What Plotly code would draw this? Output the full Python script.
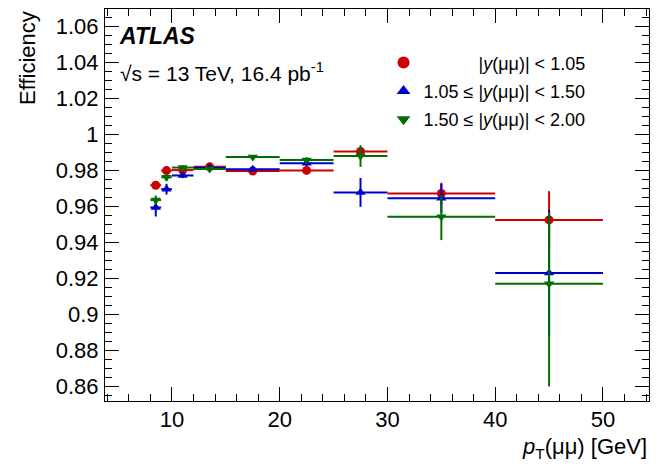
import plotly.graph_objects as go

# ---- data ----
pt_centers = [8.5, 9.5, 11, 13.5, 17.5, 22.5, 27.5, 35, 45]
pt_halfwidths = [0.5, 0.5, 1, 1.5, 2.5, 2.5, 2.5, 5, 5]

eff_central = [0.9718, 0.9799, 0.9802, 0.9820, 0.9797, 0.9800, 0.9905, 0.9672, 0.9525]
err_central = [0.0015, 0.0012, 0.001, 0.001, 0.001, 0.0012, 0.002, 0.006, 0.016]

eff_mid = [0.9594, 0.9696, 0.9772, 0.9815, 0.9807, 0.9840, 0.9678, 0.9645, 0.9230]
err_mid = [0.005, 0.003, 0.0015, 0.001, 0.001, 0.0015, 0.008, 0.008, 0.035]

eff_fwd = [0.9636, 0.9762, 0.9816, 0.9808, 0.9875, 0.9858, 0.9880, 0.9543, 0.9170]
err_fwd_up = [0.0025, 0.002, 0.001, 0.001, 0.001, 0.0015, 0.006, 0.012, 0.040]
err_fwd_dn = [0.0025, 0.002, 0.001, 0.001, 0.001, 0.0015, 0.006, 0.013, 0.057]

names = ["\u00a0" * 11 + "|<i>y</i>(\u03bc\u03bc)| < 1.05",
         "1.05 \u2264 |<i>y</i>(\u03bc\u03bc)| < 1.50",
         "1.50 \u2264 |<i>y</i>(\u03bc\u03bc)| < 2.00"]

y_tickvals = [0.86, 0.88, 0.9, 0.92, 0.94, 0.96, 0.98, 1.0, 1.02, 1.04, 1.06]
y_ticktext = ["0.86", "0.88", "0.9", "0.92", "0.94", "0.96", "0.98", "1", "1.02", "1.04", "1.06"]
x_tickvals = [10, 20, 30, 40, 50]
x_ticktext = ["10", "20", "30", "40", "50"]

RED = "#cc0000"
BLUE = "#0000cc"
GREEN = "#006e00"
FONT = "Liberation Sans, Arial, sans-serif"

fig = go.Figure()

def add_series(y, eup, edn, color, symbol, name, group):
    fig.add_trace(go.Scatter(
        x=pt_centers, y=y, mode="markers", name=name, legendgroup=group,
        marker=dict(color=color, symbol=symbol, size=9, line=dict(width=0)),
        error_x=dict(type="data", array=pt_halfwidths, symmetric=True,
                     color=color, thickness=2, width=0),
        error_y=dict(type="data", array=eup, arrayminus=edn, symmetric=False,
                     color=color, thickness=2, width=0),
    ))

add_series(eff_central, err_central, err_central, RED, "circle", names[0], "a")
add_series(eff_mid, err_mid, err_mid, BLUE, "triangle-up", names[1], "b")
add_series(eff_fwd, err_fwd_up, err_fwd_dn, GREEN, "triangle-down", names[2], "c")

axis_common = dict(
    showline=True, linecolor="black", linewidth=1, mirror="ticks",
    ticks="inside", tickcolor="black", tickwidth=1,
    showgrid=False, zeroline=False, automargin=False,
    tickfont=dict(family=FONT, size=22, color="black"),
)

fig.update_layout(
    width=660, height=470,
    margin=dict(l=105, r=11, t=9, b=69),
    paper_bgcolor="white", plot_bgcolor="white",
    font=dict(family=FONT, color="black"),
    showlegend=True,
    legend=dict(x=0.512, y=0.91, xanchor="left", yanchor="top",
                bgcolor="rgba(0,0,0,0)", font=dict(family=FONT, size=18, color="black"),
                tracegroupgap=2, itemsizing="constant"),
    xaxis=dict(range=[3.79, 54.27], tickvals=x_tickvals, ticktext=x_ticktext,
               ticklen=14, minor=dict(dtick=2, tick0=0, ticks="inside", ticklen=7,
                                      tickcolor="black", showgrid=False),
               ticklabelstandoff=-1, **axis_common),
    yaxis=dict(range=[0.8519, 1.0697], tickvals=y_tickvals, ticktext=y_ticktext,
               ticklen=14, minor=dict(dtick=0.005, tick0=0.86, ticks="inside", ticklen=7,
                                      tickcolor="black", showgrid=False),
               ticklabelstandoff=1, **axis_common),
)

fig.add_annotation(text="<b><i>ATLAS</i></b>", xref="paper", yref="paper",
                   x=0.022, y=0.931, xanchor="left", yanchor="middle", showarrow=False,
                   font=dict(family=FONT, size=23, color="black"))
fig.add_annotation(text="\u221as = 13 TeV, 16.4 pb<sup>-1</sup>", xref="paper", yref="paper",
                   x=0.024, y=0.839, xanchor="left", yanchor="middle", showarrow=False,
                   font=dict(family=FONT, size=21, color="black"))
fig.add_annotation(text="Efficiency", xref="paper", yref="paper",
                   x=-0.1435, y=1.0, xanchor="center", yanchor="top", textangle=-90,
                   showarrow=False, font=dict(family=FONT, size=22, color="black"))
fig.add_annotation(text="<i>p</i><sub>T</sub>(\u03bc\u03bc) [GeV]", xref="paper", yref="paper",
                   x=1.0, y=-0.12, xanchor="right", yanchor="middle", showarrow=False,
                   font=dict(family=FONT, size=22, color="black"))

fig.write_html("out.html",
               config={"displayModeBar": False},
               post_script="document.body.style.margin='0';document.body.style.padding='0';")
